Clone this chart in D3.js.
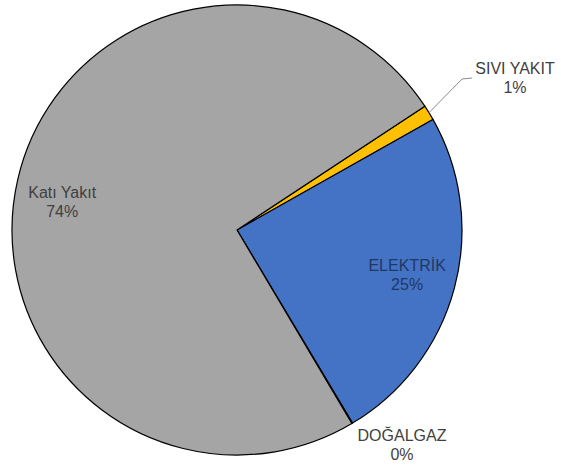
<!DOCTYPE html>
<html><head><meta charset="utf-8">
<script src="https://cdn.jsdelivr.net/npm/d3@7"></script>
<style>body{margin:0;background:#fff}svg{display:block}text{font-family:"Liberation Sans",Arial,sans-serif;font-size:16px}</style>
</head><body>
<svg id="c" width="561" height="468"></svg>
<script>
const categories = ["SIVI YAKIT", "ELEKTRİK", "DOĞALGAZ", "Katı Yakıt"];
const values = [1.1, 24.6, 0.05, 74.25];
const percentLabels = ["1%", "25%", "0%", "74%"];
const colors = ["#FFC000", "#4472C4", "#ED7D31", "#A5A5A5"];
const labelColors = ["#404040", "#1F3864", "#404040", "#404040"];

const W = 561, H = 468, cx = 237, cy = 230, R = 225;
const svg = d3.select("#c");
const g = svg.append("g").attr("transform", `translate(${cx},${cy})`);
const start = 56.6 * Math.PI / 180;
const pie = d3.pie().sort(null).value(d => d).startAngle(start).endAngle(start + 2 * Math.PI);
const arcs = pie(values);
const arc = d3.arc().innerRadius(0).outerRadius(R);

g.selectAll("path.s").data(arcs).enter().append("path")
  .attr("class", "s")
  .attr("d", arc)
  .attr("fill", (d, i) => colors[i])
  .attr("stroke", "#000")
  .attr("stroke-width", 1.2)
  .attr("stroke-linejoin", "round");

function pt(a, r) { return [r * Math.sin(a), -r * Math.cos(a)]; }

// label placement
const placements = arcs.map((d, i) => {
  const mid = (d.startAngle + d.endAngle) / 2;
  if (i === 1) { const p = pt(mid, 176); return p; }
  if (i === 3) { const p = pt(mid - 4 * Math.PI / 180, 177); return [p[0], p[1]]; }
  if (i === 0) { return [278, -152]; }
  return [165, 215];
});

arcs.forEach((d, i) => {
  const [x, y] = placements[i];
  const t = g.append("text").attr("text-anchor", "middle").attr("fill", labelColors[i]);
  t.append("tspan").attr("x", x).attr("y", y - 4).text(categories[i]);
  t.append("tspan").attr("x", x).attr("y", y + 15).text(percentLabels[i]);
});

// leader line for SIVI YAKIT
const a0 = arcs[0];
const m0 = (a0.startAngle + a0.endAngle) / 2;
const e0 = pt(m0, R);
g.append("polyline")
  .attr("points", [[e0[0], e0[1]], [225, -151], [235, -152]].map(p => p.join(",")).join(" "))
  .attr("fill", "none").attr("stroke", "#8c8c8c").attr("stroke-width", 1);
</script>
</body></html>
